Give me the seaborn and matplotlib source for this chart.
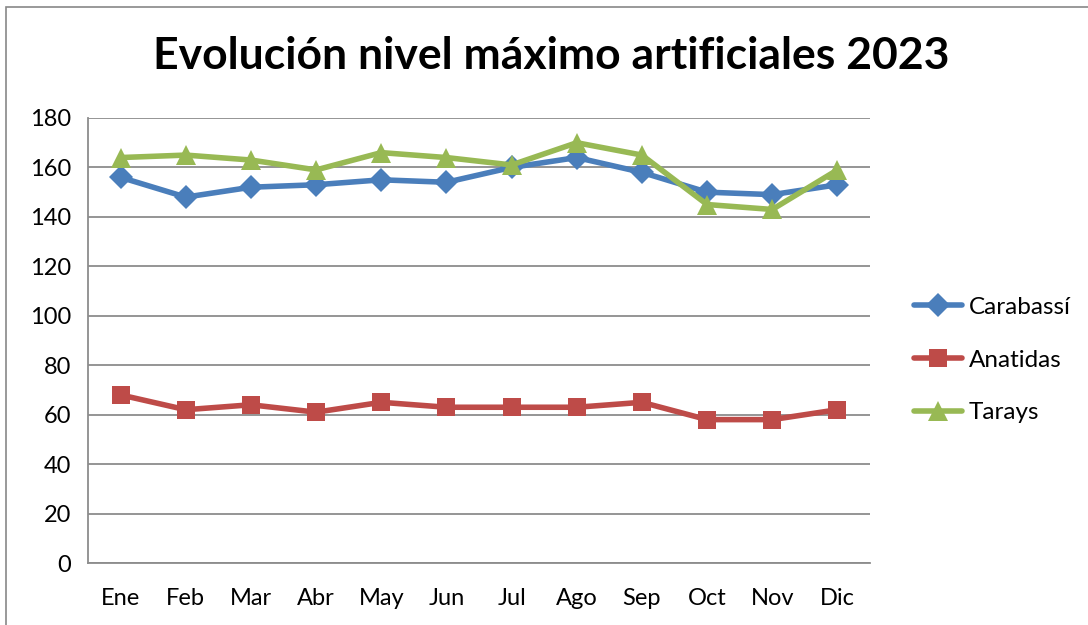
import pandas as pd
import matplotlib.pyplot as plt
import seaborn as sns
from matplotlib.patches import Rectangle

sns.set_theme(style='white')
plt.rcParams['font.family'] = ['Lato', 'DejaVu Sans']
plt.rcParams['text.color'] = 'black'

# Data
meses = ['Ene', 'Feb', 'Mar', 'Abr', 'May', 'Jun', 'Jul', 'Ago', 'Sep', 'Oct', 'Nov', 'Dic']
carabassi = [156, 148, 152, 153, 155, 154, 160, 164, 158, 150, 149, 153]
anatidas = [68, 62, 64, 61, 65, 63, 63, 63, 65, 58, 58, 62]
tarays = [164, 165, 163, 159, 166, 164, 161, 170, 165, 145, 143, 159]

series = ['Carabassí', 'Anatidas', 'Tarays']
df = pd.DataFrame({
    'mes': list(range(12)) * 3,
    'valor': carabassi + anatidas + tarays,
    'serie': [s for s in series for _ in range(12)],
})

colors = {'Carabassí': '#4A7EBB', 'Anatidas': '#BE4B48', 'Tarays': '#98B954'}
markers = {'Carabassí': 'D', 'Anatidas': 's', 'Tarays': '^'}
msizes = {'Carabassí': 12, 'Anatidas': 13, 'Tarays': 15}
lw = 4.0

fig = plt.figure(figsize=(10.88, 6.25), dpi=100)
fig.patches.append(Rectangle((6 / 1088, -0.01), 1.1, 1 - 7 / 625 + 0.01, transform=fig.transFigure,
                             fill=False, edgecolor='#888888', linewidth=1.2))
ax = fig.add_axes([88 / 1088, 1 - 563 / 625, (870 - 88) / 1088, (563 - 118) / 625])

sns.lineplot(data=df, x='mes', y='valor', hue='serie', style='serie', palette=colors,
             markers=markers, dashes=False, linewidth=lw, ax=ax, legend=False)
for line, s in zip(ax.lines, series):
    line.set_markersize(msizes[s])
    line.set_markeredgewidth(0)

ax.set_xlim(-0.5, 11.5)
ax.set_ylim(0, 180)
ax.set_yticks(range(0, 181, 20))
ax.set_xticks(range(12))
ax.set_xticklabels(meses)
ax.set_xlabel('')
ax.set_ylabel('')
ax.yaxis.grid(True, color='#8c8c8c', linewidth=1.3)
ax.xaxis.grid(False)
ax.set_axisbelow(True)
for side in ['top', 'right']:
    ax.spines[side].set_visible(False)
for side in ['left', 'bottom']:
    ax.spines[side].set_color('#8c8c8c')
    ax.spines[side].set_linewidth(1.3)
ax.tick_params(axis='both', length=0, labelsize=17, colors='black')
ax.tick_params(axis='y', pad=12)
ax.tick_params(axis='x', pad=18)

fig.text(551 / 1088, 1 - 56 / 625, 'Evolución nivel máximo artificiales 2023',
         ha='center', va='center', fontsize=32, fontweight='bold', color='black')

handles = [plt.Line2D([], [], color=colors[s], marker=markers[s], markersize=msizes[s],
                      markeredgewidth=0, linewidth=lw) for s in series]
fig.legend(handles, series, loc='center left', bbox_to_anchor=(892 / 1088, 1 - 360 / 625),
           frameon=False, fontsize=17.5, handlelength=2.0, handletextpad=0.25, labelspacing=1.3)

fig.savefig('out.png', dpi=100)
